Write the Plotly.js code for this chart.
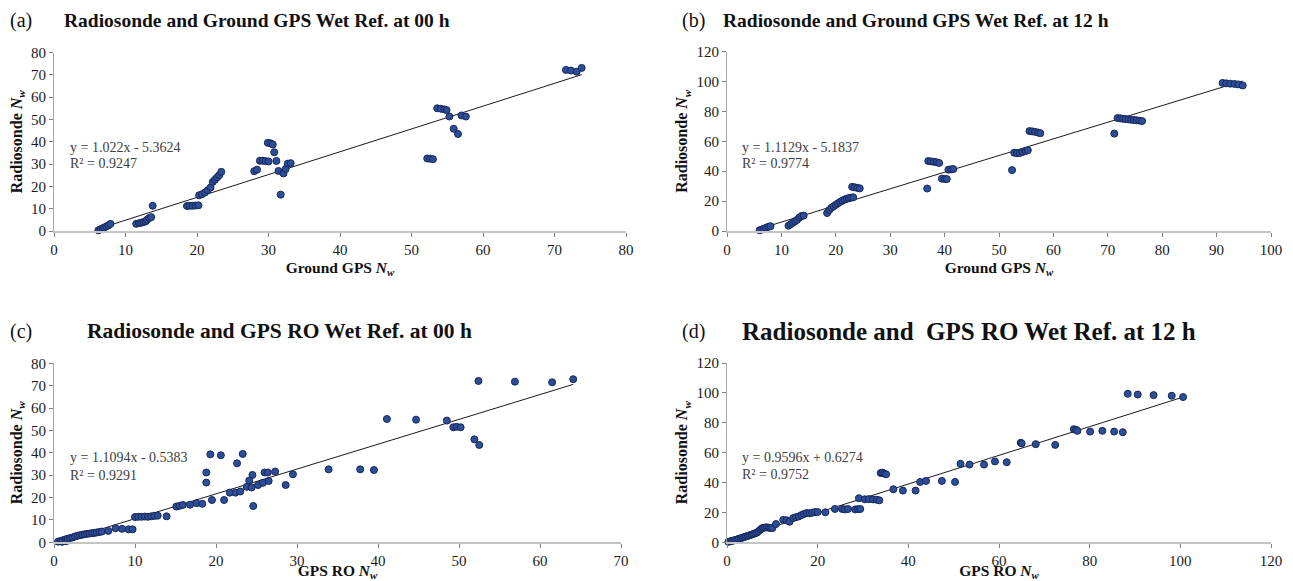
<!DOCTYPE html>
<html><head><meta charset="utf-8">
<script src="https://cdn.plot.ly/plotly-3.0.1.min.js"></script>
<style>html,body{margin:0;padding:0;background:#fff}#chart{width:1293px;height:581px}</style>
</head><body><div id="chart"></div>
<script>
// ---- Panel (a): Ground GPS vs Radiosonde, 00 h ----
const aX = [6.2,6.5,6.8,7.0,7.3,7.6,7.9, 11.5,11.9,12.2,12.5,12.8,13.0,13.3,13.6,13.8, 18.6,19.0,19.4,19.8,20.2, 20.3,20.7,21.1,21.5,21.9,22.2,22.5,22.8,23.1,23.4, 28.0,28.4, 28.8,29.2,29.6,30.0, 29.9,30.3,30.6, 30.8,31.1,31.4,31.7,32.1,32.4,32.7,33.1, 52.2,52.6,53.0, 53.6,54.1,54.6,54.9, 55.3,55.9,56.5,57.0,57.6, 71.6,72.3,73.1,73.8];
const aY = [0.3,0.8,1.2,1.5,2.0,2.5,3.2, 3.2,3.5,3.7,4.0,4.3,5.0,5.8,6.2,11.3, 11.2,11.3,11.3,11.4,11.5, 16.0,16.5,17.2,18.3,19.5,22.0,23.0,24.0,25.0,26.5, 26.8,27.5, 31.5,31.5,31.3,31.2, 39.5,39.3,38.8, 35.3,31.4,26.9,16.3,25.8,27.8,30.2,30.4, 32.5,32.4,32.2, 55.0,54.8,54.5,54.2, 51.3,45.8,43.5,51.8,51.3, 72.2,71.9,71.4,73.1];

// ---- Panel (b): Ground GPS vs Radiosonde, 12 h ----
const bX = [6.0,6.4,6.8,7.2,7.6,8.0, 11.3,11.7,12.1,12.5,12.9,13.3,13.7,14.1, 18.4,18.8,19.2,19.6,20.0,20.4,20.8,21.2,21.6,22.0,22.4,22.8,23.2, 23.0,23.5,24.0,24.4, 36.8, 37.0,37.5,38.0,38.5,39.0, 39.5,40.0,40.4, 40.7,41.2,41.6, 52.4, 52.8,53.3,53.8,54.3,54.9,55.3, 55.6,56.1,56.6,57.2,57.6, 71.2, 71.8,72.3,72.8,73.3,73.8,74.3,74.8,75.3,75.8,76.3, 91.1,91.8,92.5,93.3,94.0,94.8];
const bY = [0.5,1.0,1.5,2.2,2.8,3.2, 3.5,4.5,5.5,6.5,7.5,9.0,10.0,10.3, 12.0,14.0,15.5,16.5,17.5,18.5,19.5,20.3,21.0,21.5,22.0,22.3,22.5, 29.5,29.2,28.8,28.5, 28.4, 46.8,46.5,46.3,46.0,45.5, 35.0,34.8,34.7, 41.0,41.2,41.4, 40.7, 52.3,52.0,52.1,52.8,53.5,54.0, 66.8,66.6,66.3,65.8,65.4, 65.1, 75.5,75.3,75.0,74.8,74.6,74.4,74.2,74.0,73.8,73.5, 99.0,98.7,98.5,98.3,98.0,97.3];

// ---- Panel (c): GPS RO vs Radiosonde, 00 h ----
const cX = [0.5,0.8,1.0,1.1,1.4,1.5,1.7,2.0,2.3,2.6,2.9,3.2,3.5,3.8,4.1,4.4,4.7,5.0,5.3,5.6,5.9, 6.7, 7.6,8.4,9.2,9.7, 10.0,10.4,10.8,11.2,11.6,12.0,12.4,12.8, 13.9, 15.1,15.5,15.9, 16.8, 17.6,18.3, 18.8,18.8, 19.3,19.5,20.6,21.0,21.7,22.4,22.6,23.0,23.3,23.8,24.1,24.4,24.5,24.6,25.2,25.8,26.0,26.4,26.5,27.3,28.6,29.5, 33.9,37.8,39.5, 41.1,44.7,48.5, 49.3,49.7,50.2, 51.9,52.5, 52.4,56.9,61.5,64.1];
const cY = [0.3,0.6,0.2,0.9,1.3,0.5,1.6,1.9,2.2,2.6,2.9,3.2,3.4,3.6,3.8,3.9,4.1,4.2,4.4,4.6,4.8, 5.1, 6.3,6.0,5.8,5.8, 11.3,11.4,11.4,11.5,11.4,11.6,11.8,11.9, 11.6, 16.0,16.3,16.7, 16.8, 17.5,17.2, 31.2,26.7, 39.3,18.9,38.9,18.9,22.2,22.2,35.3,22.7,39.5,24.8,27.6,24.5,30.1,16.2,25.6,26.6,31.2,31.2,27.4,31.6,25.6,30.4, 32.6,32.6,32.3, 55.1,54.8,54.4, 51.4,51.6,51.4, 46.0,43.5, 72.1,71.8,71.5,72.9];

// ---- Panel (d): GPS RO vs Radiosonde, 12 h ----
const dX = [0.3,0.7,1.0,1.4,1.8,2.2,2.6,3.0,3.4,3.8,4.2,4.6,5.0,5.4,5.8,6.2,6.6,7.0,7.4,7.7,8.0,8.4,8.8,9.2,9.6,10.0, 10.8, 12.4,13.1,13.8, 14.6,15.2,15.8,16.4,17.0,17.6,18.2,18.8,19.4,20.0, 21.7, 23.8, 25.4,26.0,26.7, 28.3,28.9,29.4, 29.1, 30.4,31.3,32.2,33.0, 33.6, 33.9,34.3,34.7,35.1, 36.7,38.8,41.6, 42.6,43.9, 47.4,50.3, 51.5,53.5,56.7, 59.1,61.7, 64.8,65.0, 68.1,72.4, 76.5,77.0,77.3, 80.1,82.8,85.4,87.3, 88.4,90.6,94.1,98.1,100.6];
const dY = [0.3,0.6,0.9,1.2,1.5,1.9,2.3,2.7,3.1,3.5,3.9,4.3,4.7,5.1,5.6,6.0,6.5,7.5,8.5,9.3,9.7,9.9,10.0,9.8,9.6,9.5, 12.2, 15.0,14.8,13.8, 16.2,16.8,17.3,18.2,19.0,19.6,19.4,19.8,20.2,20.3, 20.1, 22.3, 22.3,22.0,22.3, 22.0,22.2,22.3, 29.5, 28.8,28.9,28.7,28.5, 28.1, 46.4,46.6,46.0,45.5, 35.5,34.6,34.6, 40.4,41.1, 41.1,40.4, 52.5,52.0,52.0, 54.1,53.6, 66.6,66.2, 65.7,65.2, 75.7,75.3,74.6, 74.1,74.6,74.1,73.7, 99.4,98.9,98.5,98.1,97.2];

// Regression results shown on the chart
const slopes = [1.022, 1.1129, 1.1094, 0.9596];
const intercepts = [-5.3624, -5.1837, -0.5383, 0.6274];
const equations = ["y = 1.022x - 5.3624", "y = 1.1129x - 5.1837", "y = 1.1094x - 0.5383", "y = 0.9596x + 0.6274"];
const r2Labels = ["R\u00b2 = 0.9247", "R\u00b2 = 0.9774", "R\u00b2 = 0.9291", "R\u00b2 = 0.9752"];
const panelLetters = ["(a)", "(b)", "(c)", "(d)"];
const panelTitles = ["Radiosonde and Ground GPS Wet Ref. at 00 h", "Radiosonde and Ground GPS Wet Ref. at 12 h", "Radiosonde and GPS RO Wet Ref. at 00 h", "Radiosonde and&nbsp; GPS RO Wet Ref. at 12 h"];
const xTitles = ["Ground GPS <i>N<sub>w</sub></i>", "Ground GPS <i>N<sub>w</sub></i>", "GPS RO <i>N<sub>w</sub></i>", "GPS RO <i>N<sub>w</sub></i>"];
const yTitle = "Radiosonde <i>N<sub>w</sub></i>";
const xRanges = [[0,80],[0,100],[0,70],[0,120]];
const yRanges = [[0,80],[0,120],[0,80],[0,120]];
const xDticks = [10,10,10,20];
const yDticks = [10,20,10,20];

const W = 1293, H = 581;
const xs = [aX,bX,cX,dX], ys = [aY,bY,cY,dY];
const xDom = [[54/W,626/W],[727/W,1271/W],[54/W,621/W],[727/W,1271/W]];
const yDom = [[(H-231)/H,(H-52.5)/H],[(H-231)/H,(H-51.5)/H],[(H-542.3)/H,(H-363.3)/H],[(H-542.3)/H,(H-363)/H]];

const serif = "Liberation Serif";
const traces = [];
const layout = {
  width: W, height: H, margin:{l:0,r:0,t:0,b:0},
  paper_bgcolor:'#fff', plot_bgcolor:'#fff', showlegend:false,
  font:{family:serif, color:'#111'}, annotations:[]
};

for (let i=0;i<4;i++){
  const sfx = i===0 ? '' : String(i+1);
  const xa = 'x'+sfx, ya = 'y'+sfx;
  const xmin = Math.min(...xs[i]), xmax = Math.max(...xs[i]);
  traces.push({
    type:'scatter', mode:'lines', xaxis:xa, yaxis:ya,
    x:[xmin,xmax], y:[slopes[i]*xmin+intercepts[i], slopes[i]*xmax+intercepts[i]],
    line:{color:'#1a1a1a', width:1}, hoverinfo:'skip', cliponaxis:false
  });
  traces.push({
    type:'scatter', mode:'markers', xaxis:xa, yaxis:ya, x:xs[i], y:ys[i],
    marker:{size:7, color:'#2C4E98', line:{color:'#18275A', width:1}}, cliponaxis:false
  });
  layout['xaxis'+sfx] = {
    domain:xDom[i], range:xRanges[i], dtick:xDticks[i], tick0:0, anchor:ya,
    showgrid:false, zeroline:false, showline:true, linecolor:'#C4C4C4', linewidth:2,
    ticks:'outside', ticklen:4, tickcolor:'#808080', tickwidth:1,
    tickfont:{family:serif, size:15, color:'#1a1a1a'},
    title:{text:'<b>'+xTitles[i]+'</b>', font:{family:serif, size:15.5, color:'#111'}, standoff:5},
    fixedrange:true
  };
  layout['yaxis'+sfx] = {
    domain:yDom[i], range:yRanges[i], dtick:yDticks[i], tick0:0, anchor:xa,
    showgrid:false, zeroline:false, showline:true, linecolor:'#A8A8A8', linewidth:1,
    ticks:'outside', ticklen:4, tickcolor:'#808080', tickwidth:1,
    tickfont:{family:serif, size:15, color:'#1a1a1a'},
    title:{text:'<b>'+yTitle+'</b>', font:{family:serif, size:16, color:'#111'}, standoff:4},
    fixedrange:true
  };
}

// titles & equation labels (pixel positions converted to paper coords)
const letterPos = [[8,20],[680,20],[8,331],[680,331]];
const titlePos = [[62,20],[721,20],[85,331],[740,331]];
const titleSizes = [19.5, 19.5, 21.5, 25];
const eqPos = [[68,147,164],[740,147,164],[68,457,475],[740,457,474]];
for (let i=0;i<4;i++){
  layout.annotations.push({xref:'paper', yref:'paper', x:letterPos[i][0]/W, y:1-letterPos[i][1]/H, xanchor:'left', yanchor:'middle', showarrow:false, text:panelLetters[i], font:{family:serif, size:20, color:'#111'}});
  layout.annotations.push({xref:'paper', yref:'paper', x:titlePos[i][0]/W, y:1-titlePos[i][1]/H, xanchor:'left', yanchor:'middle', showarrow:false, text:'<b>'+panelTitles[i]+'</b>', font:{family:serif, size:titleSizes[i], color:'#111'}});
  layout.annotations.push({xref:'paper', yref:'paper', x:eqPos[i][0]/W, y:1-eqPos[i][1]/H, xanchor:'left', yanchor:'middle', showarrow:false, text:equations[i], font:{family:serif, size:14, color:'#404040'}});
  layout.annotations.push({xref:'paper', yref:'paper', x:eqPos[i][0]/W, y:1-eqPos[i][2]/H, xanchor:'left', yanchor:'middle', showarrow:false, text:r2Labels[i], font:{family:serif, size:14, color:'#404040'}});
}

Plotly.newPlot('chart', traces, layout, {displayModeBar:false, staticPlot:true});
</script></body></html>
